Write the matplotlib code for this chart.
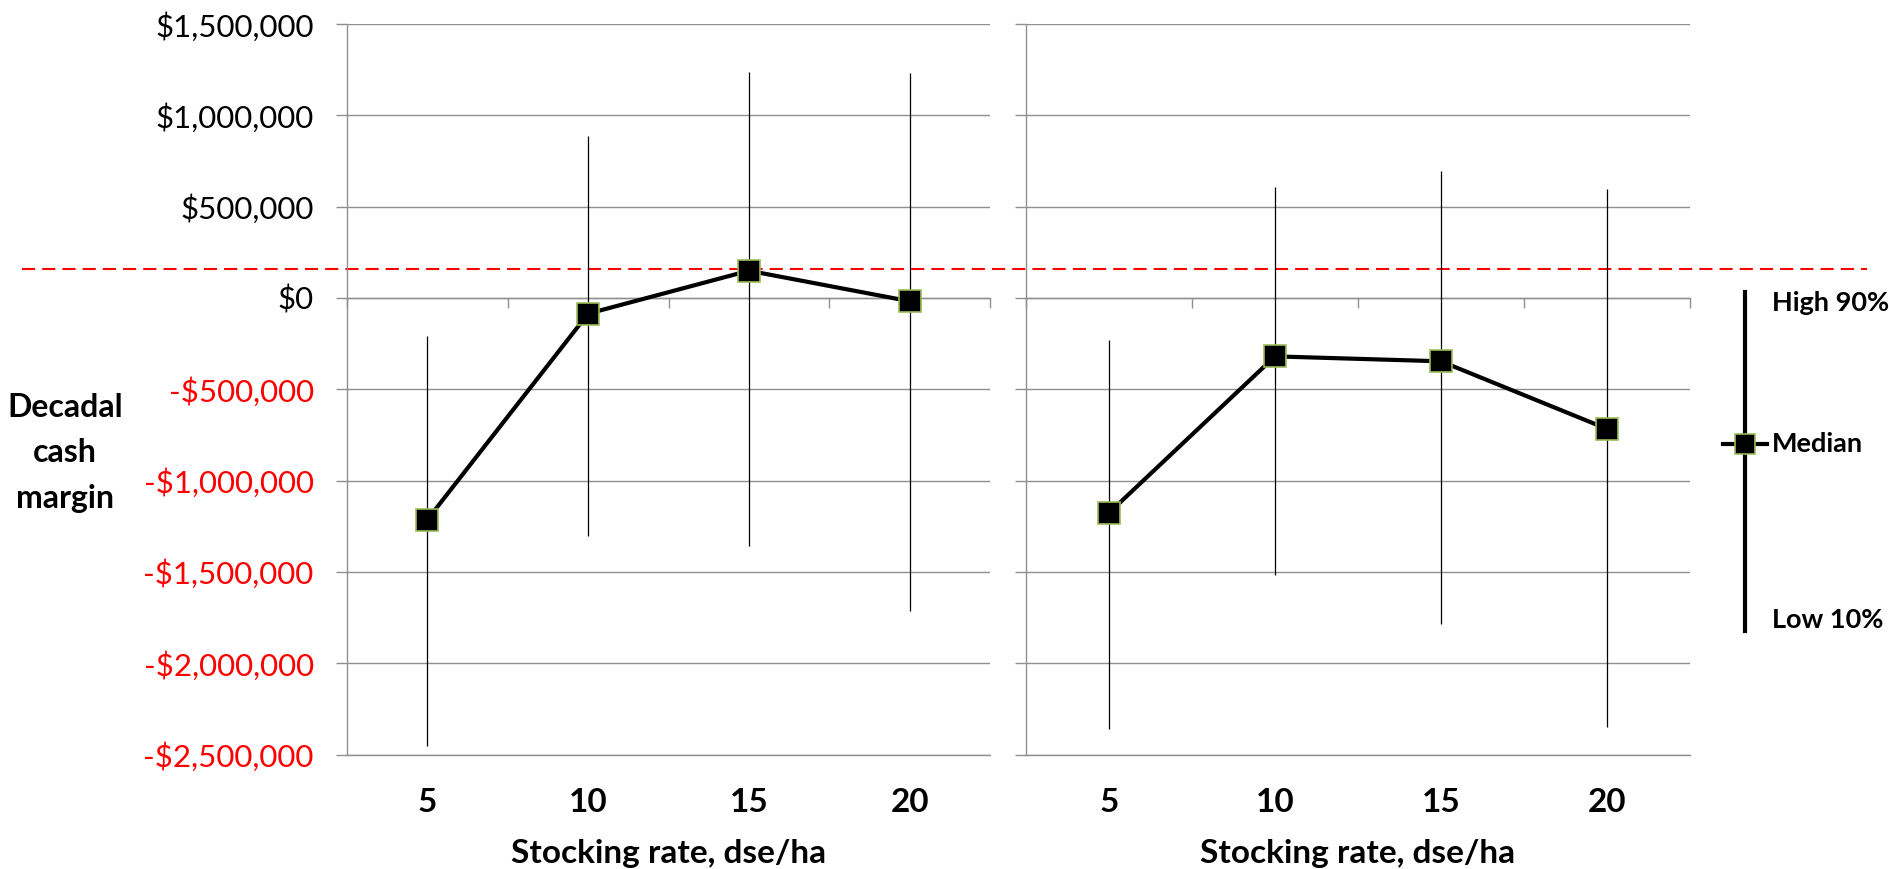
import matplotlib
matplotlib.use("Agg")
import matplotlib.pyplot as plt
from matplotlib.lines import Line2D
from matplotlib.transforms import blended_transform_factory
from matplotlib.ticker import FuncFormatter
import numpy as np

plt.rcParams['font.family'] = ['Lato', 'DejaVu Sans']

# ---------------- data ----------------
categories = ['5', '10', '15', '20']
left_median = [-1214000, -86000, 149000, -18000]
left_high = [-206000, 885000, 1237000, 1231000]
left_low = [-2455000, -1301000, -1360000, -1716000]

right_median = [-1177000, -320000, -347000, -717000]
right_high = [-232000, 605000, 697000, 598000]
right_low = [-2360000, -1517000, -1785000, -2350000]

threshold = 160000
y_ticks = [-2500000, -2000000, -1500000, -1000000, -500000, 0, 500000, 1000000, 1500000]
xlabel = 'Stocking rate, dse/ha'
ylabel = 'Decadal\ncash\nmargin'
legend_labels = ['High 90%', 'Median', 'Low 10%']

# ---------------- style ----------------
W, H = 1889, 869
GRAY = '#8f8f8f'
GREEN = '#9bbb59'
RED = '#ff0000'

fig = plt.figure(figsize=(W / 100, H / 100), dpi=100)


def fx(x):
    return x / W


def fy(y):
    return 1 - y / H


top_px, bot_px = 24, 754.5
ax1 = fig.add_axes([fx(347), fy(bot_px), (990 - 347) / W, (bot_px - top_px) / H])
ax2 = fig.add_axes([fx(1026), fy(bot_px), (1690 - 1026) / W, (bot_px - top_px) / H])


def money(v, pos=None):
    v = int(round(v))
    if v < 0:
        return '-${:,}'.format(-v)
    return '${:,}'.format(v)


def style_axes(ax, median, high, low, show_ylabels):
    x = np.arange(len(categories))
    ax.set_xlim(-0.5, len(categories) - 0.5)
    ax.set_ylim(y_ticks[0], y_ticks[-1])
    ax.set_yticks(y_ticks)
    ax.yaxis.grid(True, color=GRAY, lw=1.0, zorder=0)
    ax.set_axisbelow(True)
    ax.patch.set_visible(False)

    ax.spines['right'].set_visible(False)
    ax.spines['left'].set_color(GRAY)
    ax.spines['left'].set_linewidth(1.0)
    ax.spines['bottom'].set_color(GRAY)
    ax.spines['bottom'].set_linewidth(1.0)
    # top spine used as the horizontal axis at zero, carrying category boundary ticks
    ax.spines['top'].set_position(('data', 0))
    ax.spines['top'].set_color(GRAY)
    ax.spines['top'].set_linewidth(1.0)

    ax.set_xticks(x)
    ax.set_xticklabels(categories, fontsize=24, fontweight='bold')
    ax.set_xticks(np.arange(-0.5, len(categories), 1.0), minor=True)
    ax.tick_params(axis='x', which='major', bottom=True, top=False, length=0, pad=24)
    ax.tick_params(axis='x', which='minor', bottom=False, top=True, direction='in',
                   length=7.5, width=1.0, color=GRAY)

    ax.tick_params(axis='y', which='major', direction='out', length=8, width=1.0,
                   color=GRAY, pad=16, labelsize=22.5, labelleft=show_ylabels)
    if show_ylabels:
        ax.yaxis.set_major_formatter(FuncFormatter(money))
        for lab, v in zip(ax.get_yticklabels(), y_ticks):
            lab.set_color(RED if v < 0 else 'black')

    ax.set_xlabel(xlabel, fontsize=24, fontweight='bold', labelpad=16)

    ax.vlines(x, low, high, color='black', lw=0.9, zorder=3)
    ax.plot(x, median, color='black', lw=3, marker='s', markersize=15.5,
            markerfacecolor='black', markeredgecolor=GREEN, markeredgewidth=1.2,
            zorder=4, clip_on=False)


style_axes(ax1, left_median, left_high, left_low, True)
style_axes(ax2, right_median, right_high, right_low, False)

# red dashed threshold line spanning the figure width
tr = blended_transform_factory(fig.transFigure, ax1.transData)
ax1.plot([fx(22), fx(1867)], [threshold, threshold], transform=tr, color=RED,
         lw=1.5, linestyle=(0, (6.3, 3.4)), clip_on=False, zorder=2)

# y-axis title
fig.text(fx(65), fy(453), ylabel, ha='center', va='center', fontsize=23,
         fontweight='bold', linespacing=1.7, multialignment='center')

# legend key
fig.add_artist(Line2D([fx(1745), fx(1745)], [fy(292), fy(631)], color='black', lw=3))
fig.add_artist(Line2D([fx(1723), fx(1767)], [fy(444), fy(444)], color='black', lw=3))
fig.add_artist(Line2D([fx(1745)], [fy(444)], marker='s', markersize=14.5,
                      markerfacecolor='black', markeredgecolor=GREEN,
                      markeredgewidth=1.2, linestyle='none'))
for lab, ypx in zip(legend_labels, [303, 444, 620]):
    fig.text(fx(1772), fy(ypx), lab, ha='left', va='center', fontsize=19.5,
             fontweight='bold')

fig.savefig('out.png', dpi=100)
